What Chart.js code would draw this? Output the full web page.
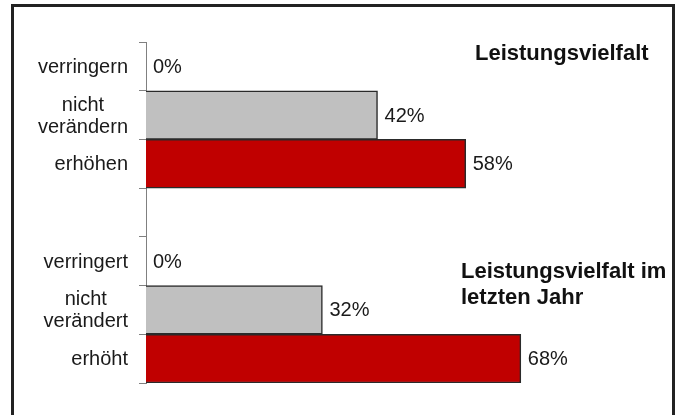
<!DOCTYPE html>
<html lang="de">
<head>
    <meta charset="UTF-8">
    <title>Leistungsvielfalt</title>
    <script src="https://cdn.jsdelivr.net/npm/chart.js"></script>
    <style>
        html, body {
            margin: 0;
            padding: 0;
            width: 683px;
            height: 415px;
            overflow: hidden;
            background: #fff;
            font-family: "Liberation Sans", Arial, sans-serif;
        }
        #frame {
            position: absolute;
            left: 11px;
            top: 4px;
            width: 658px;
            height: 500px;
            border: 3px solid #222;
        }
        #chart {
            position: absolute;
            left: 0;
            top: 0;
        }
        .panel-title {
            position: absolute;
            font-weight: bold;
            font-size: 22px;
            line-height: 26px;
            color: #111;
            white-space: nowrap;
        }
    </style>
</head>
<body>
    <div id="frame"></div>
    <canvas id="chart" width="683" height="415"></canvas>
    <div class="panel-title" id="title1" style="left:475px; top:40px;"></div>
    <div class="panel-title" id="title2" style="left:461px; top:258px;"></div>

    <script>
        // categories (multi-line labels), blank slot separates the two blocks
        const categories = [
            ['verringern'],
            ['nicht', 'verändern'],
            ['erhöhen'],
            [''],
            ['verringert'],
            ['nicht', 'verändert'],
            ['erhöht']
        ];
        const values = [0, 42, 58, null, 0, 32, 68];
        const titleTop = 'Leistungsvielfalt';
        const titleBottom = ['Leistungsvielfalt im', 'letzten Jahr'];

        document.getElementById('title1').textContent = titleTop;
        document.getElementById('title2').innerHTML = titleBottom.join('<br>');

        const GRAY = '#c0c0c0';
        const RED = '#c00000';
        const FONT = '20px "Liberation Sans", Arial, sans-serif';

        const labelPlugin = {
            id: 'labels',
            afterDraw(chart) {
                const ctx = chart.ctx;
                const y = chart.scales.y;
                const x = chart.scales.x;
                ctx.save();
                ctx.font = FONT;
                ctx.fillStyle = '#1a1a1a';
                ctx.textBaseline = 'middle';
                categories.forEach((lines, i) => {
                    const cy = y.getPixelForValue(i);
                    // category labels: block right-aligned, lines centered inside it
                    const w = Math.max(...lines.map(l => ctx.measureText(l).width));
                    const cx = chart.chartArea.left - 18 - w / 2;
                    ctx.textAlign = 'center';
                    const lh = 22;
                    lines.forEach((l, k) => {
                        ctx.fillText(l, cx, cy + (k - (lines.length - 1) / 2) * lh + 1);
                    });
                    // value labels
                    const v = values[i];
                    if (v !== null) {
                        ctx.textAlign = 'left';
                        ctx.fillText(v + '%', x.getPixelForValue(v) + 7, cy + 1);
                    }
                });
                ctx.restore();
            }
        };

        new Chart(document.getElementById('chart'), {
            type: 'bar',
            data: {
                labels: categories,
                datasets: [{
                    data: values,
                    backgroundColor: c => categories[c.dataIndex][0] === 'nicht' ? GRAY : RED,
                    borderColor: '#2a2a2a',
                    borderWidth: 1.5,
                    borderSkipped: 'start',
                    barPercentage: 1,
                    categoryPercentage: 1
                }]
            },
            options: {
                indexAxis: 'y',
                responsive: false,
                animation: false,
                events: [],
                layout: {
                    padding: { left: 139, right: 96, top: 42, bottom: 32 }
                },
                plugins: {
                    legend: { display: false },
                    tooltip: { enabled: false }
                },
                scales: {
                    x: {
                        display: false,
                        min: 0,
                        max: 80
                    },
                    y: {
                        ticks: { display: false },
                        grid: {
                            offset: true,
                            drawOnChartArea: false,
                            drawTicks: true,
                            tickLength: 7,
                            color: '#808080'
                        },
                        border: { color: '#808080', width: 1 },
                        afterFit(s) { s.width = 7; }
                    }
                }
            },
            plugins: [labelPlugin]
        });
    </script>
</body>
</html>
